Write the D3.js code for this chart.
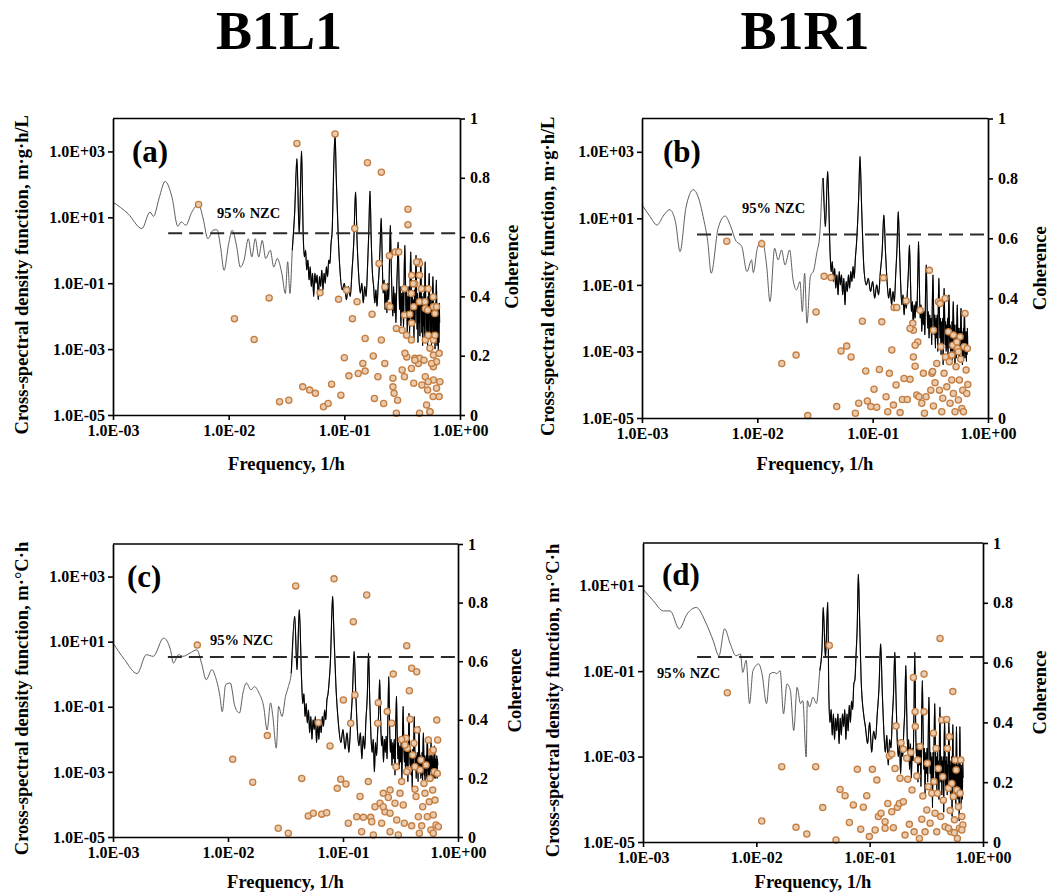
<!DOCTYPE html>
<html>
<head>
<meta charset="utf-8">
<script src="https://cdn.jsdelivr.net/npm/d3@7"></script>
<style>
  body { margin: 0; background: #fff; }
  text { font-family: "Liberation Serif", "Times New Roman", serif; font-weight: bold; fill: #000; }
</style>
</head>
<body>
<div id="chart"></div>
<script>
// --------------------------------------------------
// 1. Data (log10 values)
// --------------------------------------------------
// low-frequency part of each spectrum: [log10 f (1/h), log10 CSD]
const lowA = [[-3.0,1.46],[-2.87,1.11],[-2.75,0.66],[-2.68,1.16],[-2.65,1.03],[-2.6,1.6],[-2.55,2.09],[-2.49,1.61],[-2.44,0.73],[-2.41,0.86],[-2.37,0.76],[-2.32,1.15],[-2.26,1.39],[-2.22,0.95],[-2.18,0.35],[-2.13,0.62],[-2.1,0.62],[-2.07,0.1],[-2.04,-0.61],[-2.0,0.2],[-1.97,0.61],[-1.93,0.1],[-1.9,-0.51],[-1.867,-0.3],[-1.83,0.35],[-1.8,-0.2],[-1.77,0.35],[-1.74,-0.2],[-1.71,0.3],[-1.68,-0.25],[-1.64,0.0],[-1.61,-0.51],[-1.58,-0.25],[-1.54,-0.71],[-1.51,-1.31],[-1.49,-0.35],[-1.47,-1.31],[-1.45,0.0],[-1.43,1.11],[-1.41,2.78],[-1.39,0.5],[-1.37,3.01],[-1.355,0.4],
  [-1.345,-0.2],[-1.335,0.0],[-1.325,-0.6],[-1.315,-0.3],[-1.305,-0.9],[-1.295,-0.5],[-1.285,-1.1],[-1.275,-0.7],[-1.265,-1.4],[-1.255,-0.7],[-1.245,-1.0],[-1.235,-0.75],[-1.225,-1.5],[-1.215,-0.8],[-1.205,-1.1],[-1.195,-0.6],[-1.185,-1.2],[-1.175,-0.7],[-1.165,-1.0],[-1.155,-0.5],[-1.145,-0.8],[-1.135,-0.3],[-1.125,-0.4],[-1.115,0.2],[-1.105,0.6],
  [-1.09,2.73],[-1.08,3.52],[-1.07,2.22],[-1.05,0.2]];
const lowB = [[-3.0,1.41],[-2.93,1.05],[-2.87,0.8],[-2.81,1.1],[-2.76,1.26],[-2.71,0.9],[-2.67,0.0],[-2.62,1.3],[-2.555,1.86],[-2.5,1.5],[-2.47,1.05],[-2.43,0.3],[-2.4,-0.65],[-2.34,0.7],[-2.28,1.07],[-2.23,0.75],[-2.19,0.35],[-2.135,0.15],[-2.09,-0.6],[-2.05,-0.25],[-2.035,-0.63],[-2.0,0.1],[-1.96,0.35],[-1.92,-0.4],[-1.89,-1.5],[-1.85,0.1],[-1.82,-0.25],[-1.79,0.05],[-1.76,-0.4],[-1.72,0.05],[-1.69,-0.85],[-1.66,-1.15],[-1.63,-0.9],[-1.61,-1.8],[-1.59,-0.65],[-1.57,-2.15],[-1.54,-0.75],[-1.51,-0.55],[-1.485,-0.05],[-1.46,0.45],[-1.43,2.21],[-1.41,0.75],[-1.39,2.41],[-1.37,0.05],
  [-1.36,-0.6],[-1.35,-0.3],[-1.34,-0.9],[-1.33,-0.5],[-1.32,-1.1],[-1.31,-0.7],[-1.3,-1.3],[-1.29,-0.6],[-1.28,-1.0],[-1.27,-0.7],[-1.26,-1.3],[-1.25,-0.8],[-1.24,-1.6],[-1.23,-0.9],[-1.22,-1.2],[-1.21,-0.7],[-1.2,-1.1],[-1.19,-0.6],[-1.18,-0.9],[-1.17,-0.45],[-1.16,-0.8],[-1.15,-0.2],[-1.14,0.25],
  [-1.12,1.76],[-1.11,2.86],[-1.095,1.26],[-1.075,-0.55],[-1.055,-1.0]];
const lowC = [[-3.0,0.96],[-2.9,0.45],[-2.79,0.02],[-2.71,0.6],[-2.65,0.55],[-2.56,1.11],[-2.5,0.75],[-2.475,0.34],[-2.43,0.6],[-2.39,0.55],[-2.33,0.65],[-2.27,0.75],[-2.23,0.34],[-2.19,-0.17],[-2.14,0.14],[-2.11,-0.07],[-2.07,-0.68],[-2.05,-1.15],[-2.02,-0.32],[-1.98,-0.27],[-1.94,-0.99],[-1.9,-1.19],[-1.87,-0.58],[-1.84,-0.27],[-1.8,-0.48],[-1.77,-0.38],[-1.73,-0.58],[-1.69,-0.99],[-1.66,-1.71],[-1.63,-0.88],[-1.61,-1.3],[-1.58,-2.27],[-1.56,-0.99],[-1.53,-1.3],[-1.5,-0.68],[-1.475,-0.38],[-1.45,0.03],[-1.42,1.78],[-1.4,0.14],[-1.38,1.98],[-1.36,-0.17],
  [-1.35,-0.9],[-1.34,-0.6],[-1.33,-1.3],[-1.32,-0.9],[-1.31,-1.5],[-1.3,-1.1],[-1.29,-1.8],[-1.28,-1.3],[-1.27,-2.0],[-1.26,-1.4],[-1.25,-1.7],[-1.24,-1.3],[-1.23,-2.1],[-1.22,-1.5],[-1.21,-2.0],[-1.2,-1.4],[-1.19,-1.8],[-1.18,-1.3],[-1.17,-1.6],[-1.16,-1.1],[-1.15,-1.4],[-1.14,-0.8],[-1.13,-0.6],[-1.12,-0.2],[-1.11,0.34],
  [-1.09,2.39],[-1.08,1.37],[-1.06,-0.48],[-1.045,-1.3]];
const lowD = [[-3.0,0.92],[-2.91,0.65],[-2.82,0.41],[-2.76,0.41],[-2.68,-0.01],[-2.61,0.34],[-2.53,0.49],[-2.44,0.1],[-2.38,-0.29],[-2.33,-0.64],[-2.28,-0.01],[-2.23,-0.36],[-2.18,-0.64],[-2.14,-0.6],[-2.12,-1.03],[-2.09,-0.75],[-2.06,-1.76],[-2.03,-0.99],[-1.98,-0.83],[-1.95,-1.06],[-1.91,-1.76],[-1.88,-1.06],[-1.84,-1.03],[-1.82,-1.06],[-1.79,-0.99],[-1.76,-2.0],[-1.73,-1.3],[-1.7,-1.45],[-1.67,-2.39],[-1.64,-1.38],[-1.61,-1.76],[-1.59,-1.69],[-1.56,-3.01],[-1.55,-1.69],[-1.53,-1.84],[-1.5,-1.61],[-1.47,-1.76],[-1.44,-0.99],[-1.42,-0.44],[-1.41,0.49],[-1.39,-0.68],[-1.37,0.61],[-1.36,-1.61],
  [-1.35,-2.2],[-1.34,-1.9],[-1.33,-2.5],[-1.32,-2.0],[-1.31,-2.6],[-1.3,-2.1],[-1.29,-2.4],[-1.28,-2.0],[-1.27,-2.7],[-1.26,-2.1],[-1.25,-2.5],[-1.24,-2.0],[-1.23,-2.3],[-1.22,-1.9],[-1.21,-2.6],[-1.2,-2.0],[-1.19,-2.4],[-1.18,-1.8],[-1.17,-2.2],[-1.16,-1.7],[-1.15,-1.9],[-1.14,-1.3],[-1.13,-1.2],[-1.12,-0.6],[-1.11,0.02],
  [-1.1,1.27],[-1.09,0.34],[-1.075,-1.22],[-1.05,-2.08]];

// high-frequency part on the spectral grid f = k / 240, k = 22 ... 160 (log10 CSD)
const gridStart = 22;
const gridDen = 240;
const gridA = [-0.6,-1.2,-1.0,-1.5,-1.1,-1.4,-0.6,0.3, 1.77,
  0.2,-0.8,-1.3,-1.0,-1.6,-1.1,-1.4,-0.6,0.5, 1.8,
  0.3,-0.7,-1.1,-1.6,-1.2,-1.7,-1.1,-0.6,0.2, 0.97,
  -0.2,-1.3,-0.9,-1.8,-1.2,-1.9,-1.0,-1.5,-0.3, 0.76,
  -0.4,-1.4,-2.0,-1.1,-1.9,-1.3,-2.2,-1.2,-0.5, 0.25,
  -0.6,-1.8,-1.1,-2.3,-1.3,-2.0,-1.2,-2.4,-0.7, 0.15,
  -0.8,-2.0,-1.2,-2.5,-1.4,-2.2,-1.1,-2.6,-0.8, -0.05,
  -1.0,-2.3,-1.3,-2.1,-1.5,-2.7,-1.2,-2.2,-0.9, -0.15,
  -1.1,-2.4,-1.3,-2.8,-1.5,-2.2,-1.2,-2.6,-1.0, -0.25,
  -1.2,-2.5,-1.4,-2.9,-1.6,-2.3,-1.3,-2.7,-1.0, -0.35,
  -1.3,-2.6,-1.5,-2.4,-1.7,-3.0,-1.4,-2.5,-1.1, -0.7,
  -1.4,-2.7,-1.5,-2.5,-1.8,-2.9,-1.5,-2.6,-1.2, -0.8,
  -1.5,-2.8,-1.6,-2.6,-1.9,-3.0,-1.6,-2.7,-1.3, -0.9,
  -1.6,-2.9,-1.7,-2.6,-2.0,-3.1,-1.7,-2.8,-1.6,-2.2];
const gridB = [-0.8,-1.2,-0.9,-1.4,-1.0,-1.3,-0.6,0.0, 1.1,
  0.0,-0.9,-1.4,-1.1,-1.6,-1.2,-1.5,-0.7,0.1, 1.2,
  0.1,-1.0,-1.6,-1.3,-1.9,-1.4,-1.7,-1.2,-0.6, 0.2,
  -0.8,-1.8,-1.5,-2.2,-1.6,-2.0,-1.5,-1.8,-0.8, 0.3,
  -1.0,-2.0,-1.6,-2.4,-1.7,-2.2,-1.8,-2.5,-1.2, -0.4,
  -1.4,-2.3,-1.8,-2.6,-1.9,-2.4,-2.0,-2.8,-1.5, -0.7,
  -1.7,-2.5,-1.9,-2.9,-2.0,-2.6,-1.9,-3.0,-1.6, -0.8,
  -1.8,-2.6,-2.0,-3.1,-2.1,-2.7,-2.0,-3.4,-1.8, -1.1,
  -1.9,-2.8,-2.1,-3.0,-2.2,-2.9,-2.0,-3.2,-1.9, -1.3,
  -2.0,-2.9,-2.2,-3.1,-2.3,-3.0,-2.1,-3.3,-2.0, -1.5,
  -2.1,-3.0,-2.2,-3.5,-2.4,-3.0,-2.2,-3.2,-2.1, -1.6,
  -2.2,-3.1,-2.3,-3.2,-2.4,-3.3,-2.3,-3.0,-2.2, -1.7,
  -2.3,-3.0,-2.4,-3.4,-2.5,-3.1,-2.3,-3.2,-2.2, -1.8,
  -2.3,-3.2,-2.4,-3.0,-2.6,-3.3,-2.4,-3.1,-2.3,-2.8];
const gridC = [-1.6,-2.1,-1.7,-2.3,-1.8,-2.4,-1.5,-0.6, 0.7,
  -0.6,-1.7,-2.2,-1.8,-2.6,-1.9,-2.3,-1.4,-0.7, 0.65,
  -0.8,-1.9,-2.4,-2.0,-3.0,-2.1,-2.5,-1.8,-1.2, -0.17,
  -1.4,-2.2,-1.9,-2.7,-2.0,-2.4,-1.9,-2.6,-1.3, -0.07,
  -1.5,-2.4,-2.0,-2.8,-2.1,-2.6,-2.0,-3.1,-1.6, -0.68,
  -1.8,-2.6,-2.1,-2.9,-2.2,-2.7,-2.1,-3.2,-1.9, -0.99,
  -2.0,-2.7,-2.2,-3.0,-2.3,-2.8,-2.2,-3.3,-2.0, -1.2,
  -2.1,-2.8,-2.3,-3.1,-2.4,-3.5,-2.3,-2.9,-2.1, -1.3,
  -2.2,-2.9,-2.4,-3.2,-2.5,-3.0,-2.4,-3.3,-2.2, -1.6,
  -2.3,-3.0,-2.5,-3.2,-2.6,-3.1,-2.4,-3.4,-2.3, -1.8,
  -2.4,-3.1,-2.5,-3.3,-2.6,-3.0,-2.5,-3.2,-2.3, -2.0,
  -2.4,-3.2,-2.6,-3.1,-2.5,-3.3,-2.6,-3.0,-2.4, -2.1,
  -2.5,-3.1,-2.6,-3.2,-2.5,-3.0,-2.7,-3.2,-2.4, -2.2,
  -2.5,-3.2,-2.6,-3.0,-2.7,-3.1,-2.5,-3.2,-2.6,-2.8];
const gridD = [-2.3,-2.7,-2.2,-2.9,-2.4,-2.6,-2.0,-1.4, -0.36,
  -1.5,-2.4,-2.9,-2.5,-3.2,-2.6,-2.8,-2.1,-1.5, -0.56,
  -1.6,-2.6,-3.0,-2.7,-3.4,-2.8,-3.0,-2.4,-1.9, -0.87,
  -2.0,-2.9,-2.6,-3.3,-2.7,-3.5,-2.8,-3.1,-2.0, -0.56,
  -2.1,-3.0,-2.7,-3.6,-2.8,-3.2,-2.7,-3.7,-2.2, -1.22,
  -2.3,-3.3,-2.8,-3.9,-2.9,-3.4,-2.8,-3.6,-2.4, -1.61,
  -2.5,-3.4,-2.9,-3.7,-3.0,-4.2,-2.9,-3.5,-2.5, -1.76,
  -2.6,-3.5,-3.0,-3.8,-2.9,-3.6,-3.1,-4.0,-2.6, -1.84,
  -2.7,-3.6,-3.0,-3.9,-3.1,-3.5,-3.0,-4.3,-2.7, -2.15,
  -2.8,-3.7,-3.1,-3.8,-3.0,-3.9,-3.2,-3.6,-2.8, -2.2,
  -2.8,-3.8,-3.1,-4.0,-3.2,-3.7,-3.0,-4.4,-2.9, -2.25,
  -2.9,-3.7,-3.2,-3.9,-3.1,-3.8,-3.3,-4.1,-2.9, -2.3,
  -3.0,-3.8,-3.2,-4.0,-3.3,-3.9,-3.1,-4.5,-3.0, -2.3,
  -3.0,-3.9,-3.3,-4.1,-3.2,-3.8,-3.4,-4.0,-3.1,-3.5];

// coherence points: [log10 f (1/h), coherence]
const cohA = [[-2.26,0.71],[-1.65,0.395],[-1.95,0.325],[-1.78,0.255],[-1.41,0.916],[-1.08,0.948],[-0.8,0.851],[-0.68,0.819],[-0.45,0.694],[-0.45,0.642],[-0.91,0.629],
  [-1.56,0.045],[-1.48,0.05],[-1.36,0.095],[-1.3,0.084],[-1.25,0.073],[-1.18,0.028],[-1.14,0.039],[-1.11,0.104],[-1.03,0.067],[-1.0,0.193],
  [-1.21,0.412],[-1.05,0.39],[-0.98,0.421],[-0.93,0.325],[-0.89,0.382],[-0.96,0.132],[-0.88,0.14],[-0.84,0.174],[-0.82,0.148],[-0.82,0.258],
  [-0.76,0.34],[-0.75,0.199],[-0.74,0.056],[-0.71,0.129],[-0.68,0.253],[-0.66,0.039],[-0.65,0.174],[-0.7,0.511],[-0.65,0.432],[-0.61,0.537],
  [-0.56,0.55],[-0.53,0.55],[-0.58,0.124],[-0.58,0.095],[-0.57,0.073],[-0.54,0.05],[-0.55,0.292],[-0.5,0.152],[-0.48,0.129],[-0.46,0.196],
  [-0.42,0.157],[-0.4,0.107],[-0.36,0.174],[-0.35,0.006],[-0.33,0.101],[-0.3,0.129],[-0.26,0.011],[-0.28,0.084],[-0.23,0.118],[-0.5,0.286],
  [-0.48,0.426],[-0.42,0.41],[-0.4,0.365],[-0.48,0.337],[-0.39,0.443],[-0.36,0.516],[-0.35,0.511],[-0.35,0.471],[-0.35,0.382],[-0.3,0.359],
  [-0.28,0.354],[-0.23,0.365],[-0.42,0.253],[-0.39,0.191],[-0.35,0.191],[-0.3,0.253],[-0.23,0.202],[-0.23,0.163],[-0.23,0.253],[-0.55,0.006],
  [-0.275,0.426],[-0.232,0.398],[-0.217,0.342],[-0.203,0.365],[-0.275,0.269],[-0.217,0.269],[-0.26,0.225],[-0.18,0.208],[-0.203,0.18],[-0.246,0.174],
  [-0.174,0.112],[-0.203,0.09],[-0.275,0.112],[-0.18,0.062],[-0.289,0.034],[-0.62,0.37],[-0.606,0.365],[-0.434,0.34],[-0.418,0.31],[-0.333,0.426],
  [-0.303,0.382],[-0.404,0.443],[-0.418,0.471],[-0.375,0.516],[-0.462,0.269],[-0.476,0.208],[-0.39,0.185],[-0.311,0.185],[-0.232,0.062],[-0.26,0.011]];
const cohB = [[-2.265,0.59],[-1.962,0.582],[-1.563,0.008],[-1.788,0.182],[-1.664,0.21],[-1.491,0.354],[-1.421,0.473],[-1.361,0.469],[-1.312,0.038],[-1.274,0.224],
  [-1.225,0.24],[-1.187,0.204],[-1.15,0.016],[-1.121,0.049],[-1.089,0.323],[-1.06,0.157],[-1.046,0.057],[-1.016,0.038],[-0.988,0.096],[-0.965,0.036],
  [-0.942,0.162],[-0.907,0.468],[-0.921,0.321],[-0.884,0.071],[-0.869,0.021],[-0.855,0.149],[-0.834,0.227],[-0.82,0.043],[-0.797,0.11],[-0.814,0.369],
  [-0.791,0.369],[-0.762,0.018],[-0.742,0.062],[-0.728,0.132],[-0.71,0.391],[-0.699,0.062],[-0.676,0.129],[-0.652,0.316],[-0.647,0.293],[-0.632,0.173],
  [-0.618,0.077],[-0.609,0.254],[-0.598,0.071],[-0.589,0.36],[-0.574,0.049],[-0.56,0.149],[-0.551,0.016],[-0.537,0.071],[-0.508,0.493],[-0.496,0.093],
  [-0.487,0.149],[-0.473,0.293],[-0.473,0.04],[-0.459,0.118],[-0.444,0.182],[-0.43,0.388],[-0.421,0.093],[-0.409,0.238],[-0.401,0.021],[-0.392,0.066],
  [-0.381,0.149],[-0.369,0.204],[-0.357,0.104],[-0.343,0.288],[-0.335,0.188],[-0.329,0.049],[-0.314,0.127],[-0.305,0.243],[-0.3,0.082],[-0.286,0.021],
  [-0.277,0.171],[-0.265,0.232],[-0.257,0.06],[-0.248,0.127],[-0.242,0.271],[-0.236,0.196],[-0.227,0.032],[-0.219,0.093],[-0.207,0.238],[-0.199,0.349],
  [-0.19,0.16],[-0.184,0.082],[-0.179,0.232],[-0.175,0.112],[-0.213,0.021],[-0.257,0.221],[-0.647,0.204],[-0.372,0.399],[-0.415,0.382],[-0.676,0.299],
  [-0.632,0.243],[-0.3,0.277],[-0.27,0.254],[-0.314,0.21],[-0.48,0.155]];
const cohC = [[-2.267,0.655],[-1.959,0.265],[-1.785,0.187],[-1.658,0.346],[-1.411,0.857],[-1.078,0.881],[-0.794,0.826],[-0.91,0.735],[-0.446,0.653],[-1.359,0.2],
  [-1.563,0.03],[-1.476,0.013],[-1.302,0.072],[-1.258,0.081],[-1.185,0.078],[-1.142,0.083],[-1.215,0.39],[-1.113,0.311],[-0.997,0.468],[-0.933,0.388],
  [-0.896,0.485],[-1.05,0.166],[-1.02,0.197],[-0.974,0.181],[-0.954,0.047],[-0.881,0.069],[-0.852,0.138],[-0.838,0.018],[-0.823,0.067],[-0.78,0.189],
  [-0.759,0.067],[-0.75,0.052],[-0.736,0.007],[-0.722,0.103],[-0.693,0.458],[-0.698,0.388],[-0.678,0.115],[-0.664,0.047],[-0.65,0.149],[-0.635,0.086],
  [-0.615,0.428],[-0.606,0.135],[-0.591,0.081],[-0.577,0.388],[-0.563,0.556],[-0.548,0.115],[-0.533,0.058],[-0.519,0.007],[-0.504,0.149],[-0.49,0.189],
  [-0.476,0.109],[-0.467,0.047],[-0.452,0.337],[-0.441,0.303],[-0.432,0.229],[-0.423,0.499],[-0.417,0.402],[-0.403,0.576],[-0.359,0.564],[-0.394,0.28],
  [-0.383,0.32],[-0.374,0.163],[-0.365,0.138],[-0.354,0.365],[-0.345,0.069],[-0.33,0.229],[-0.322,0.263],[-0.316,0.038],[-0.307,0.103],[-0.296,0.183],
  [-0.287,0.149],[-0.278,0.246],[-0.267,0.069],[-0.258,0.331],[-0.25,0.12],[-0.243,0.2],[-0.235,0.024],[-0.229,0.291],[-0.22,0.16],[-0.215,0.075],
  [-0.206,0.223],[-0.2,0.126],[-0.191,0.041],[-0.185,0.399],[-0.18,0.217],[-0.177,0.331],[-0.171,0.035],[-0.215,0.013],[-0.336,0.013],[-0.403,0.038],
  [-0.591,0.018],[-0.65,0.103],[-0.591,0.16],[-0.215,0.297],[-0.49,0.333],[-0.461,0.314],[-0.539,0.24],[-0.446,0.223],[-0.374,0.24]];
const cohD = [[-2.256,0.499],[-1.356,0.657],[-1.776,0.252],[-1.476,0.252],[-1.952,0.07],[-1.65,0.049],[-1.555,0.027],[-1.414,0.115],[-1.297,0.007],[-1.261,0.176],
  [-1.217,0.155],[-1.179,0.065],[-1.144,0.124],[-1.109,0.243],[-1.079,0.043],[-1.056,0.116],[-1.026,0.155],[-1.003,0.018],[-0.976,0.243],[-0.952,0.04],
  [-0.937,0.207],[-0.923,0.085],[-0.9,0.096],[-0.864,0.068],[-0.84,0.129],[-0.826,0.288],[-0.805,0.294],[-0.791,0.048],[-0.776,0.246],[-0.767,0.388],
  [-0.755,0.116],[-0.738,0.129],[-0.732,0.213],[-0.723,0.332],[-0.703,0.31],[-0.688,0.023],[-0.673,0.28],[-0.664,0.21],[-0.65,0.059],[-0.637,0.299],
  [-0.626,0.174],[-0.614,0.55],[-0.608,0.034],[-0.599,0.436],[-0.597,0.386],[-0.584,0.221],[-0.576,0.274],[-0.561,0.012],[-0.555,0.319],[-0.54,0.076],
  [-0.531,0.154],[-0.52,0.562],[-0.52,0.436],[-0.511,0.034],[-0.496,0.107],[-0.491,0.263],[-0.482,0.185],[-0.467,0.063],[-0.452,0.163],[-0.437,0.364],
  [-0.432,0.202],[-0.423,0.096],[-0.414,0.313],[-0.408,0.034],[-0.402,0.163],[-0.394,0.246],[-0.379,0.681],[-0.373,0.085],[-0.364,0.408],[-0.355,0.218],
  [-0.35,0.14],[-0.335,0.051],[-0.32,0.41],[-0.314,0.313],[-0.305,0.18],[-0.297,0.352],[-0.29,0.105],[-0.284,0.034],[-0.275,0.196],[-0.266,0.503],
  [-0.261,0.152],[-0.252,0.074],[-0.246,0.274],[-0.237,0.241],[-0.231,0.174],[-0.226,0.012],[-0.217,0.118],[-0.208,0.046],[-0.202,0.163],[-0.196,0.274],
  [-0.187,0.085],[-0.178,0.057],[-0.187,0.04],[-0.305,0.046],[-0.252,0.031],[-0.703,0.135],[-0.805,0.101],[-0.864,0.046]];

// 95% non-zero coherence level per panel, drawn from f = 0.003 1/h
const nzcLevels = [0.613, 0.613, 0.614, 0.619];
const nzcFrom = 0.003;

// ticks and texts
const xTicks = [1e-3, 1e-2, 1e-1, 1];
const yTicksWide = [1e-5, 1e-3, 1e-1, 1e1, 1e3];
const yTicksNarrow = [1e-5, 1e-3, 1e-1, 1e1];
const cohTicks = [0, 0.2, 0.4, 0.6, 0.8, 1];
const columnTitles = ["B1L1", "B1R1"];
const panelTags = ["(a)", "(b)", "(c)", "(d)"];
const yUnits = ["m·g·h/L", "m·g·h/L", "m·°C·h", "m·°C·h"];

// --------------------------------------------------
// 2. Layout
// --------------------------------------------------
const width = 1062;
const height = 896;
const denseFrom = 0.035; // above this the spectrum reads as a solid black band

const panels = [
  { low: lowA, grid: gridA, coh: cohA, yTop: 1e4, yTicks: yTicksWide,
    x0: 113, x1: 460, y0: 118.5, y1: 415, leftLab: 22, rightLab: 512, xLabY: 470, tag: [132, 162], nzcLab: [217, 218] },
  { low: lowB, grid: gridB, coh: cohB, yTop: 1e4, yTicks: yTicksWide,
    x0: 642, x1: 988, y0: 118.5, y1: 418, leftLab: 548, rightLab: 1040, xLabY: 470, tag: [663, 162], nzcLab: [742, 213] },
  { low: lowC, grid: gridC, coh: cohC, yTop: 1e4, yTicks: yTicksWide,
    x0: 113, x1: 458, y0: 544, y1: 837, leftLab: 22, rightLab: 515, xLabY: 888, tag: [127, 587], nzcLab: [210, 645] },
  { low: lowD, grid: gridD, coh: cohD, yTop: 1e2, yTicks: yTicksNarrow,
    x0: 643, x1: 983, y0: 543, y1: 842, leftLab: 553, rightLab: 1040, xLabY: 888, tag: [662, 585], nzcLab: [657, 678] }
];

const svg = d3.select("#chart")
  .append("svg")
  .attr("width", width)
  .attr("height", height);

svg.append("rect").attr("width", width).attr("height", height).attr("fill", "#fff");

// column titles
svg.selectAll(".col-title")
  .data(columnTitles)
  .enter()
  .append("text")
  .attr("x", (d, i) => i === 0 ? 279 : 805)
  .attr("y", 49)
  .attr("text-anchor", "middle")
  .attr("font-size", 54)
  .text(d => d);

const fmtE = v => {
  const e = Math.round(Math.log10(v));
  return "1.0E" + (e < 0 ? "-" : "+") + String(Math.abs(e)).padStart(2, "0");
};

function styleAxis(g) {
  g.attr("font-family", "'Liberation Serif', serif")
    .attr("font-size", 16)
    .attr("font-weight", "bold");
  g.select(".domain").attr("stroke", "#000").attr("stroke-width", 1.7);
  g.selectAll(".tick line").attr("stroke", "#000").attr("stroke-width", 1.6);
}

// --------------------------------------------------
// 3. Draw each panel
// --------------------------------------------------
panels.forEach((p, idx) => {
  const x = d3.scaleLog().domain([1e-3, 1]).range([p.x0, p.x1]);
  const y = d3.scaleLog().domain([1e-5, p.yTop]).range([p.y1, p.y0]);
  const yc = d3.scaleLinear().domain([0, 1]).range([p.y1, p.y0]);

  const g = svg.append("g");

  // spectrum line: thin grey overall, black where it gets dense
  const pts = p.low.map(d => [Math.pow(10, d[0]), Math.pow(10, d[1])])
    .concat(p.grid.map((v, i) => [(gridStart + i) / gridDen, Math.pow(10, v)]));

  const line = d3.line()
    .x(d => x(d[0]))
    .y(d => y(d[1]))
    .curve(d3.curveMonotoneX);

  g.append("path")
    .datum(pts)
    .attr("fill", "none")
    .attr("stroke", "#555")
    .attr("stroke-width", 0.95)
    .attr("d", line);

  g.append("path")
    .datum(pts.filter(d => d[0] >= denseFrom))
    .attr("fill", "none")
    .attr("stroke", "#000")
    .attr("stroke-width", 1.1)
    .attr("stroke-linejoin", "round")
    .attr("d", line);

  // 95% NZC dashed line
  g.append("line")
    .attr("x1", x(nzcFrom))
    .attr("x2", x(1))
    .attr("y1", yc(nzcLevels[idx]))
    .attr("y2", yc(nzcLevels[idx]))
    .attr("stroke", "#2a2a2a")
    .attr("stroke-width", 2)
    .attr("stroke-dasharray", "14,7");

  g.append("text")
    .attr("x", p.nzcLab[0])
    .attr("y", p.nzcLab[1])
    .attr("font-size", 14.5)
    .text("95% NZC");

  // coherence points
  g.selectAll(".coh")
    .data(p.coh)
    .enter()
    .append("circle")
    .attr("cx", d => x(Math.pow(10, d[0])))
    .attr("cy", d => yc(d[1]))
    .attr("r", 3.1)
    .attr("fill", "#e9ccaf")
    .attr("stroke", "#c47d40")
    .attr("stroke-width", 1.3);

  // frame top
  g.append("line")
    .attr("x1", p.x0).attr("x2", p.x1)
    .attr("y1", p.y0).attr("y2", p.y0)
    .attr("stroke", "#000").attr("stroke-width", 1.7);

  // axes
  g.append("g")
    .attr("transform", `translate(0,${p.y1})`)
    .call(d3.axisBottom(x).tickValues(xTicks).tickFormat(fmtE).tickSizeInner(5).tickSizeOuter(0).tickPadding(5))
    .call(styleAxis);

  g.append("g")
    .attr("transform", `translate(${p.x0},0)`)
    .call(d3.axisLeft(y).tickValues(p.yTicks).tickFormat(fmtE).tickSizeInner(5).tickSizeOuter(0).tickPadding(3))
    .call(styleAxis);

  g.append("g")
    .attr("transform", `translate(${p.x1},0)`)
    .call(d3.axisRight(yc).tickValues(cohTicks).tickFormat(d => String(d)).tickSizeInner(5).tickSizeOuter(0).tickPadding(5))
    .call(styleAxis);

  // axis titles
  g.append("text")
    .attr("x", (p.x0 + p.x1) / 2)
    .attr("y", p.xLabY)
    .attr("text-anchor", "middle")
    .attr("font-size", 18.5)
    .text("Frequency, 1/h");

  g.append("text")
    .attr("transform", `translate(${p.leftLab + 6},${(p.y0 + p.y1) / 2 + 8}) rotate(-90)`)
    .attr("text-anchor", "middle")
    .attr("font-size", 18.5)
    .text("Cross-spectral density function, " + yUnits[idx]);

  g.append("text")
    .attr("transform", `translate(${p.rightLab + 6},${(p.y0 + p.y1) / 2}) rotate(-90)`)
    .attr("text-anchor", "middle")
    .attr("font-size", 18.5)
    .text("Coherence");

  g.append("text")
    .attr("x", p.tag[0])
    .attr("y", p.tag[1])
    .attr("font-size", 31)
    .text(panelTags[idx]);
});
</script>
</body>
</html>
